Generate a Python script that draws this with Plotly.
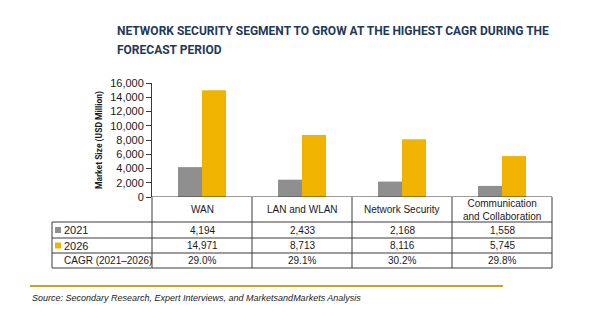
import plotly.graph_objects as go

# Market size by segment (USD million)
categories = ["WAN", "LAN and WLAN", "Network Security", "Communication<br>and Collaboration"]
series_names = ["2021", "2026"]
values_2021 = [4194, 2433, 2168, 1558]
values_2026 = [14971, 8713, 8116, 5745]
cagr = ["29.0%", "29.1%", "30.2%", "29.8%"]
colors = ["#8F8F8F", "#F0B400"]
y_ticks = [0, 2000, 4000, 6000, 8000, 10000, 12000, 14000, 16000]
title_lines = ["NETWORK SECURITY SEGMENT TO GROW AT THE HIGHEST CAGR DURING THE",
               "FORECAST PERIOD"]

W, H = 600, 325
M_L, M_R, M_T, M_B = 152, 48, 83, 128
plot_h = H - M_T - M_B
plot_w = W - M_L - M_R
n = len(categories)

def py(pixel_y):
    """Convert a pixel row to paper y."""
    return (H - M_B - pixel_y) / plot_h

def pxp(pixel_x):
    """Convert a pixel column to paper x."""
    return (pixel_x - M_L) / plot_w

def px(cat_pos):
    """Convert a category position to paper x."""
    return (cat_pos + 0.5) / n

fig = go.Figure()
for name, vals, col in zip(series_names, [values_2021, values_2026], colors):
    fig.add_trace(go.Bar(
        x=list(range(n)), y=vals, name=name,
        marker=dict(color=col, line=dict(width=0)),
        showlegend=False,
    ))

line_col = "#3A3A3A"
shapes = []
annotations = []

# Table grid
row_y = [197, 222, 238, 253, 268]
for i in range(n + 1):
    shapes.append(dict(type="line", xref="paper", yref="paper",
                       x0=px(i - 0.5), x1=px(i - 0.5), y0=py(197), y1=py(268),
                       line=dict(color=line_col, width=1)))
shapes.append(dict(type="line", xref="paper", yref="paper",
                   x0=px(-1.5), x1=px(-1.5), y0=py(222), y1=py(268),
                   line=dict(color=line_col, width=1)))
for ry in row_y[1:]:
    shapes.append(dict(type="line", xref="paper", yref="paper",
                       x0=px(-1.5), x1=px(n - 0.5), y0=py(ry), y1=py(ry),
                       line=dict(color=line_col, width=1)))

cell_font = dict(family="Liberation Sans, Arial, sans-serif", size=10, color="#1A1A1A")

for i, c in enumerate(categories):
    annotations.append(dict(text=c, xref="paper", yref="paper", x=px(i),
                            y=py(209.5), showarrow=False, xanchor="center",
                            yanchor="middle", font=cell_font))
rows = [values_2021, values_2026]
for r, vals in enumerate(rows):
    mid = (row_y[r + 1] + row_y[r + 2]) / 2
    for i, v in enumerate(vals):
        annotations.append(dict(text=f"{v:,}", xref="paper", yref="paper", x=px(i),
                                y=py(mid), showarrow=False, xanchor="center",
                                yanchor="middle", font=cell_font))
    # series swatch and label in the first column
    shapes.append(dict(type="rect", xref="paper", yref="paper",
                       x0=px(-1.5) + 3 / plot_w, x1=px(-1.5) + 9 / plot_w,
                       y0=py(mid + 3), y1=py(mid - 3),
                       fillcolor=colors[r], line=dict(width=0)))
    annotations.append(dict(text=series_names[r], xref="paper", yref="paper",
                            x=px(-1.5) + 10 / plot_w, y=py(mid),
                            showarrow=False, xanchor="left", yanchor="middle",
                            font=dict(family="Liberation Sans, Arial, sans-serif", size=11, color="#1A1A1A")))
mid = (row_y[3] + row_y[4]) / 2
annotations.append(dict(text="CAGR (2021\u20132026)", xref="paper", yref="paper",
                        x=px(-1.5) + 10 / plot_w, y=py(mid),
                        showarrow=False, xanchor="left", yanchor="middle", font=cell_font))
for i, v in enumerate(cagr):
    annotations.append(dict(text=v, xref="paper", yref="paper", x=px(i),
                            y=py(mid), showarrow=False, xanchor="center",
                            yanchor="middle", font=cell_font))

# y-axis title
annotations.append(dict(text="<b>Market Size (USD Million)</b>", xref="paper", yref="paper",
                        x=pxp(99), y=py(140), textangle=-90,
                        showarrow=False, xanchor="center", yanchor="middle",
                        font=dict(family="Roboto, sans-serif", size=8.5, color="#1A1A1A")))

# two-line title
for line, ty in zip(title_lines, [31, 50]):
    annotations.append(dict(
        text=f"<b>{line}</b>", xref="paper", yref="paper", x=pxp(115), y=py(ty),
        showarrow=False, xanchor="left", yanchor="middle", align="left",
        font=dict(family="Roboto, sans-serif", size=12, color="#1F3A57")))

# footer rule and source
shapes.append(dict(type="line", xref="paper", yref="paper",
                   x0=pxp(30), x1=pxp(503),
                   y0=py(286), y1=py(286), line=dict(color="#C9A227", width=2)))
annotations.append(dict(
    text="<i>Source: Secondary Research, Expert Interviews, and MarketsandMarkets Analysis</i>",
    xref="paper", yref="paper", x=pxp(30), y=py(298),
    showarrow=False, xanchor="left", yanchor="middle",
    font=dict(family="Liberation Sans, Arial, sans-serif", size=9, color="#1A1A1A")))

fig.update_layout(
    width=W, height=H,
    margin=dict(l=M_L, r=M_R, t=M_T, b=M_B, autoexpand=False),
    paper_bgcolor="white", plot_bgcolor="white",
    barmode="group", bargap=0.52, bargroupgap=0,
    shapes=shapes, annotations=annotations,
    xaxis=dict(range=[-0.5, n - 0.5], showticklabels=False, showgrid=False,
               zeroline=False, showline=False, ticks=""),
    yaxis=dict(range=[0, 16000], tickvals=y_ticks, tickformat=",d",
               showgrid=False, zeroline=False, showline=True, linecolor=line_col,
               linewidth=1, ticks="outside", ticklen=5, tickcolor=line_col,
               tickfont=dict(family="Liberation Sans, Arial, sans-serif", size=11, color="#1A1A1A")),
)
# baseline at zero
fig.add_shape(type="line", xref="paper", yref="y", x0=0, x1=1, y0=0, y1=0,
              line=dict(color=line_col, width=1))

fig.write_html("out.html")
